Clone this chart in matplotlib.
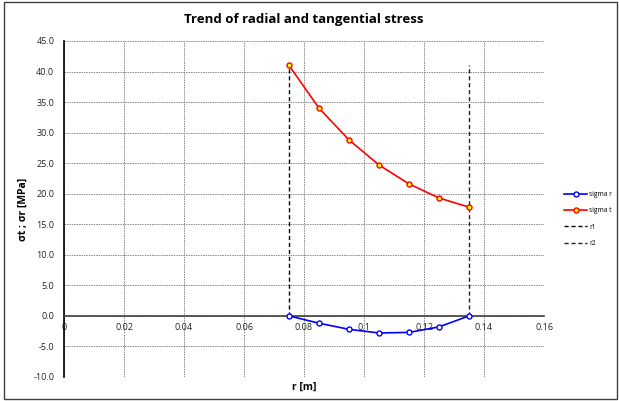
import matplotlib
matplotlib.use("Agg")
import matplotlib.pyplot as plt
from matplotlib.patches import Rectangle

r_vals = [0.075, 0.085, 0.095, 0.105, 0.115, 0.125, 0.135]
sigma_r = [0.0, -1.2, -2.2, -2.8, -2.7, -1.8, 0.0]
sigma_t = [41.0, 34.0, 28.8, 24.7, 21.6, 19.3, 17.8]
r1_x = [0.075, 0.075]
r1_y = [0.0, 41.0]
r2_x = [0.135, 0.135]
r2_y = [0.0, 41.0]
x_ticks = [0, 0.02, 0.04, 0.06, 0.08, 0.1, 0.12, 0.14, 0.16]
x_tick_labels = ["0", "0.02", "0.04", "0.06", "0.08", "0.1", "0.12", "0.14", "0.16"]
y_ticks = [-10, -5, 0, 5, 10, 15, 20, 25, 30, 35, 40, 45]

plt.rcParams['font.family'] = ['Open Sans', 'DejaVu Sans']

fig = plt.figure(figsize=(6.19, 4.01), dpi=100)
fig.patches.append(Rectangle((0.006, 0.004), 0.991, 0.992, transform=fig.transFigure,
                             fill=False, edgecolor='#404040', linewidth=1.0))
ax = fig.add_axes([0.1034, 0.0599, 0.7755, 0.8379])

ax.plot(r_vals, sigma_r, color='#0000ff', linewidth=1.2, marker='o', markersize=3.6,
        markerfacecolor='white', markeredgecolor='#0000ff', markeredgewidth=1.0, label='sigma r', zorder=5)
ax.plot(r_vals, sigma_t, color='#ff0000', linewidth=1.2, marker='o', markersize=3.6,
        markerfacecolor='#ffff00', markeredgecolor='#ff0000', markeredgewidth=1.0, label='sigma t', zorder=5)
ax.plot(r1_x, r1_y, color='black', linestyle=(0, (3, 2)), linewidth=1.0, label='r1', zorder=4)
ax.plot(r2_x, r2_y, color='#222222', linestyle=(0, (3, 2)), linewidth=1.0, label='r2', zorder=4)

ax.set_xlim(0, 0.16)
ax.set_ylim(-10, 45)
ax.set_xticks(x_ticks)
ax.set_xticklabels(x_tick_labels)
ax.set_yticks(y_ticks)
ax.set_yticklabels([f"{v:.1f}" for v in y_ticks])
ax.grid(True, color='#888888', linestyle=(0, (1.5, 1)), linewidth=0.7)
ax.set_axisbelow(True)

for s in ['top', 'right']:
    ax.spines[s].set_visible(False)
ax.spines['left'].set_linewidth(1.2)
ax.spines['left'].set_color('black')
ax.spines['bottom'].set_position(('data', 0))
ax.spines['bottom'].set_color('#404040')
ax.spines['bottom'].set_linewidth(1.2)
ax.tick_params(axis='both', length=0, labelsize=6.5, colors='#222222')
ax.tick_params(axis='x', pad=5)
ax.tick_params(axis='y', pad=7)

ax.set_title('Trend of radial and tangential stress', fontsize=9.5, fontweight='bold', pad=13)
ax.set_xlabel('r [m]', fontsize=7.5, fontweight='bold')
ax.xaxis.set_label_coords(0.5, -0.015)
ax.set_ylabel('σt ; σr [MPa]', fontsize=7.5, fontweight='bold', labelpad=3)

ax.legend(loc='center left', bbox_to_anchor=(1.03, 0.47), frameon=False, fontsize=4.8,
          handlelength=3.4, labelspacing=1.4, handletextpad=0.3)

fig.savefig('out.png', dpi=100)
